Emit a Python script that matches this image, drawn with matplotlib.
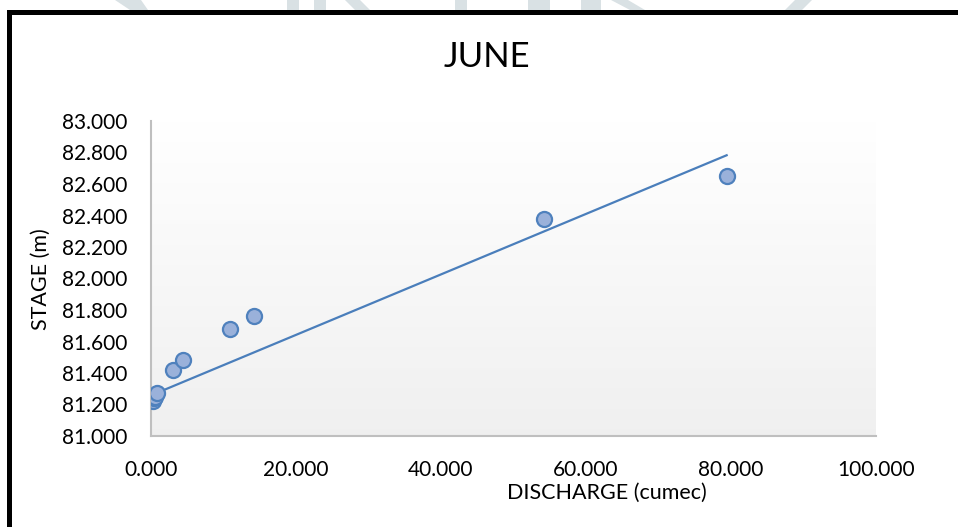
import numpy as np
import matplotlib
matplotlib.use('Agg')
import matplotlib.pyplot as plt
from matplotlib.patches import Rectangle, Polygon

# --------------------------- data ---------------------------
discharge = [0.3, 0.4, 0.6, 0.8, 3.0, 4.4, 10.9, 14.2, 54.2, 79.4]    # cumec
stage = [81.22, 81.24, 81.25, 81.27, 81.42, 81.48, 81.68, 81.76, 82.38, 82.65]  # m

# linear trendline (stage = slope * discharge + intercept)
trend_slope = 0.0192
trend_intercept = 81.258

x_ticks = [0, 20, 40, 60, 80, 100]
y_ticks = [81.0, 81.2, 81.4, 81.6, 81.8, 82.0, 82.2, 82.4, 82.6, 82.8, 83.0]

title = "JUNE"
x_label = "DISCHARGE (cumec)"
y_label = "STAGE (m)"

# --------------------------- style ---------------------------
plt.rcParams['font.family'] = ['Lato', 'DejaVu Sans']

W, H = 958, 527
fig = plt.figure(figsize=(W / 100, H / 100), dpi=100)
fig.patch.set_facecolor('white')

def fx(px):
    return px / W

def fy(py):
    return 1 - py / H

# faint watermark strip along the top edge
wm_color = '#d9e1e4'
wm_shapes = [
    [(115, 0), (141, 0), (148, 10), (130, 10)],
    [(287, 0), (299, 0), (299, 10), (287, 10)],
    [(314, 0), (326, 0), (326, 10), (314, 10)],
    [(345, 0), (360, 0), (370, 10), (355, 10)],
    [(455, 0), (467, 0), (467, 10), (455, 10)],
    [(528, 0), (550, 0), (550, 10), (528, 10)],
    [(581, 0), (601, 0), (601, 10), (581, 10)],
    [(611, 0), (628, 0), (645, 10), (630, 10)],
    [(795, 0), (812, 0), (802, 10), (785, 10)],
]
for shp in wm_shapes:
    fig.patches.append(Polygon([(fx(a), fy(b)) for a, b in shp], closed=True,
                               transform=fig.transFigure, facecolor=wm_color,
                               edgecolor='none', zorder=0))

# heavy black frame on top and left
fig.patches.append(Rectangle((fx(7), fy(15)), fx(958) - fx(7), fy(10) - fy(15),
                             transform=fig.transFigure, facecolor='black',
                             edgecolor='none', zorder=1))
fig.patches.append(Rectangle((fx(7), 0), fx(12) - fx(7), fy(10),
                             transform=fig.transFigure, facecolor='black',
                             edgecolor='none', zorder=1))

# --------------------------- axes ---------------------------
ax = fig.add_axes([fx(151), fy(436), fx(876) - fx(151), fy(121) - fy(436)])
ax.set_facecolor('none')

# vertical gradient fill behind the data
grad = np.linspace(1.0, 0.94, 256).reshape(-1, 1)
ax.imshow(np.dstack([grad, grad, grad]), extent=[0, 1, 0, 1], transform=ax.transAxes,
          aspect='auto', zorder=0, interpolation='bilinear')

x = np.array(discharge)
y = np.array(stage)
xt = np.array([x.min(), x.max()])
ax.plot(xt, trend_slope * xt + trend_intercept, color='#4a7ebb', lw=1.6, zorder=2)
ax.scatter(x, y, s=118, facecolor='#9ab1da', edgecolor='#4f81bd', linewidth=1.6, zorder=3)

ax.set_xlim(0, 100)
ax.set_ylim(81, 83)
ax.set_xticks(x_ticks)
ax.set_yticks(y_ticks)
ax.set_xticklabels([f"{v:.3f}" for v in x_ticks])
ax.set_yticklabels([f"{v:.3f}" for v in y_ticks])
ax.tick_params(axis='both', length=0, labelsize=15, colors='black')
ax.tick_params(axis='y', pad=17)
ax.tick_params(axis='x', pad=17)

for side in ['top', 'right']:
    ax.spines[side].set_visible(False)
for side in ['left', 'bottom']:
    ax.spines[side].set_color('#bfbfbf')
    ax.spines[side].set_linewidth(1.5)

# titles
fig.text(fx(487), fy(57), title, ha='center', va='center', fontsize=25)
fig.text(fx(607), fy(483), x_label, ha='center', va='top', fontsize=15.5)
fig.text(fx(41), fy(279), y_label, ha='center', va='center', fontsize=15.5, rotation=90)

fig.savefig('out.png', dpi=100)
